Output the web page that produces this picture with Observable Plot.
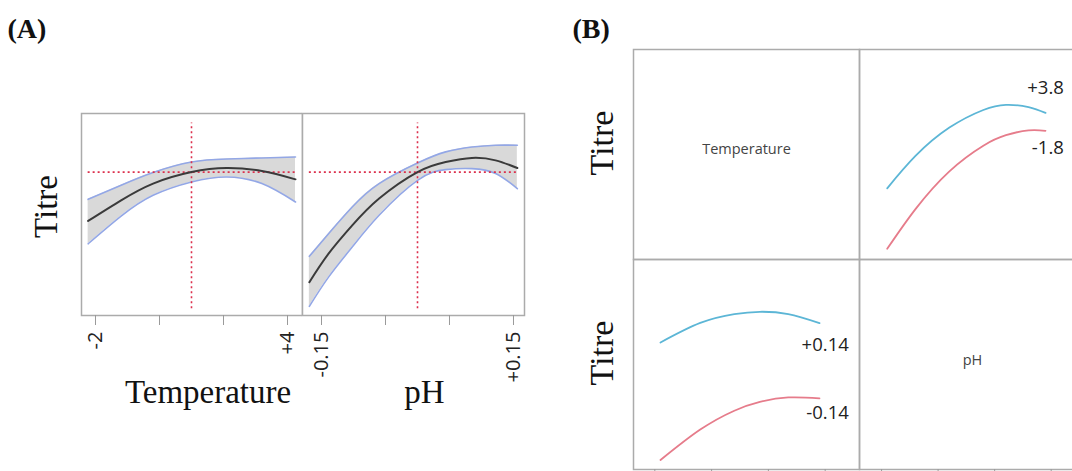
<!DOCTYPE html>
<html>
<head>
<meta charset="utf-8">
<script src="https://cdn.jsdelivr.net/npm/d3@7"></script>
<script src="https://cdn.jsdelivr.net/npm/@observablehq/plot@0.6"></script>
<style>
  html, body { margin: 0; padding: 0; background: #fff; overflow: hidden; }
  #root { position: relative; width: 1072px; height: 471px; overflow: hidden; background: #fff; }
  #root svg { position: absolute; }
</style>
</head>
<body>
<div id="root"></div>
<script>
// ---------- Panel A: prediction profiler ----------
const tempX     = [-2.23, -1.2, -0.2, 1.0, 2.1, 3.2, 4.25];
const tempFit   = [46.8, 57.0, 65.3, 71.0, 73.0, 71.5, 67.4];
const tempUpper = [57.5, 64.5, 70.8, 76.0, 77.5, 78.0, 78.5];
const tempLower = [35.5, 49.2, 59.5, 66.1, 68.6, 65.3, 56.2];

const phX     = [-0.169, -0.139, -0.102, -0.06, 0.0, 0.044, 0.085, 0.122, 0.156];
const phFit   = [16.5, 30.6, 44.6, 57.9, 71.0, 76.0, 78.0, 76.8, 73.0];
const phUpper = [29.3, 40.5, 53.7, 65.3, 75.5, 81.0, 83.4, 84.3, 84.3];
const phLower = [4.5, 19.0, 33.9, 49.6, 66.9, 72.2, 72.7, 70.3, 62.8];

const tempCurrent = 1.0;
const phCurrent = 0.0;
const titreCurrent = 71.0;
const refSpan = [3.3, 95.3];

const tempTicks = [-2, 0, 2, 4];
const tempTickLabels = ["-2", "", "", "+4"];
const phTicks = [-0.15, -0.05, 0.05, 0.15];
const phTickLabels = ["-0.15", "", "", "+0.15"];

// ---------- Panel B: interaction profiles ----------
const bPhX = [-0.14, -0.09, -0.03, 0.03, 0.07, 0.11, 0.14];
const bTempHigh = [33.9, 49.3, 62.8, 71.2, 73.6, 72.6, 69.8];   // Temperature +3.8
const bTempLow  = [5.1, 24.0, 42.0, 54.2, 59.2, 61.5, 61.3];    // Temperature -1.8
const tempLevelLabels = ["+3.8", "-1.8"];

const bTempX = [-1.8, -0.4, 0.8, 1.7, 2.7, 3.8];
const bPhHigh = [60.5, 69.8, 74.0, 75.1, 74.0, 69.7];           // pH +0.14
const bPhLow  = [4.5, 19.0, 28.0, 32.2, 34.3, 33.9];            // pH -0.14
const phLevelLabels = ["+0.14", "-0.14"];

// ---------- styles ----------
const SERIF = "'Liberation Serif', 'Times New Roman', serif";
const SANS = "'Open Sans', 'Liberation Sans', sans-serif";
const RED = "#dc2f4c";
const BAND = "#93a7e6";
const BANDFILL = "#d9d9d9";
const FRAME = "#ababab";
const BLUE_B = "#5cb6d6";
const RED_B = "#e67c8b";

const root = document.getElementById("root");
const pos = (l, t) => ({position: "absolute", left: l + "px", top: t + "px", background: "transparent"});

const tempRows = tempX.map((x, i) => ({x, fit: tempFit[i], hi: tempUpper[i], lo: tempLower[i]}));
const phRows = phX.map((x, i) => ({x, fit: phFit[i], hi: phUpper[i], lo: phLower[i]}));

function profileMarks(rows, current, ticks, tickLabels, label, labelDx) {
  const x0 = rows[0].x, x1 = rows[rows.length - 1].x;
  return [
    Plot.areaY(rows, {x: "x", y1: "lo", y2: "hi", fill: BANDFILL, curve: "natural"}),
    Plot.line(rows, {x: "x", y: "hi", stroke: BAND, strokeWidth: 1.6, curve: "natural"}),
    Plot.line(rows, {x: "x", y: "lo", stroke: BAND, strokeWidth: 1.6, curve: "natural"}),
    Plot.ruleX([current], {y1: refSpan[0], y2: refSpan[1], stroke: RED, strokeWidth: 1.6, strokeDasharray: "2,3"}),
    Plot.ruleY([titreCurrent], {x1: x0, x2: x1, stroke: RED, strokeWidth: 1.6, strokeDasharray: "2,3"}),
    Plot.line(rows, {x: "x", y: "fit", stroke: "#3a3a3a", strokeWidth: 2, curve: "natural"}),
    Plot.frame({stroke: FRAME, strokeWidth: 1.5}),
    Plot.axisX({ticks, tickFormat: d => tickLabels[ticks.indexOf(d)], tickRotate: -90, tickSize: 10,
      tickPadding: 6, fontSize: 20, fontFamily: SANS, stroke: "#9a9a9a", fill: "#222", label: null}),
    Plot.text([label], {text: d => d, frameAnchor: "bottom", textAnchor: "middle", lineAnchor: "bottom",
      dx: labelDx, dy: 87, fontSize: 33, fontFamily: SERIF, fill: "#111"})
  ];
}

// A1: Temperature
root.appendChild(Plot.plot({
  width: 302, height: 471, marginLeft: 81, marginRight: 0, marginTop: 113, marginBottom: 156,
  style: pos(0, 0),
  x: {domain: [-2.4375, 4.46875]},
  y: {domain: [0, 100], axis: null},
  marks: [
    ...profileMarks(tempRows, tempCurrent, tempTicks, tempTickLabels, "Temperature", 16),
    Plot.text(["Titre"], {text: d => d, frameAnchor: "left", rotate: -90, textAnchor: "middle",
      dx: -35, dy: -8, fontSize: 33, fontFamily: SERIF, fill: "#111"}),
    Plot.text(["(A)"], {text: d => d, frameAnchor: "top-left", textAnchor: "start", lineAnchor: "bottom",
      dx: -74, dy: -76, fontSize: 28, fontWeight: "bold", fontFamily: SERIF, fill: "#111"})
  ]
}));

// A2: pH
root.appendChild(Plot.plot({
  width: 242, height: 471, marginLeft: 2, marginRight: 18, marginTop: 113, marginBottom: 156,
  style: pos(300, 0),
  x: {domain: [-0.1797, 0.1672]},
  y: {domain: [0, 100], axis: null},
  marks: profileMarks(phRows, phCurrent, phTicks, phTickLabels, "pH", 11)
}));

// ---------- Panel B ----------
const trBlue = bPhX.map((x, i) => ({x, y: bTempHigh[i]}));
const trRed = bPhX.map((x, i) => ({x, y: bTempLow[i]}));
const blBlue = bTempX.map((x, i) => ({x, y: bPhHigh[i]}));
const blRed = bTempX.map((x, i) => ({x, y: bPhLow[i]}));
const lastOf = a => a[a.length - 1];

// B top-left: Temperature label cell
root.appendChild(Plot.plot({
  width: 301, height: 261, marginLeft: 73, marginRight: 2, marginTop: 49, marginBottom: 2,
  style: pos(560, 0),
  x: {domain: [0, 1], axis: null}, y: {domain: [0, 1], axis: null},
  marks: [
    Plot.frame({stroke: FRAME, strokeWidth: 1.5}),
    Plot.text(["Temperature"], {text: d => d, frameAnchor: "middle", dy: -5.5, fontSize: 14.5, fontFamily: SANS, fill: "#444"}),
    Plot.text(["Titre"], {text: d => d, frameAnchor: "left", rotate: -90, textAnchor: "middle",
      dx: -31.5, dy: -11.5, fontSize: 34, fontFamily: SERIF, fill: "#111"}),
    Plot.text(["(B)"], {text: d => d, frameAnchor: "top-left", textAnchor: "start", lineAnchor: "bottom",
      dx: -61, dy: -12, fontSize: 28, fontWeight: "bold", fontFamily: SERIF, fill: "#111"})
  ]
}));

// B top-right: Titre vs pH at two Temperature levels
root.appendChild(Plot.plot({
  width: 230, height: 261, marginLeft: 2, marginRight: 2, marginTop: 49, marginBottom: 2,
  style: pos(857, 0),
  x: {domain: [-0.189, 0.2107], axis: null}, y: {domain: [0, 100], axis: null},
  marks: [
    Plot.frame({stroke: FRAME, strokeWidth: 1.5}),
    Plot.line(trBlue, {x: "x", y: "y", stroke: BLUE_B, strokeWidth: 1.8, curve: "natural"}),
    Plot.line(trRed, {x: "x", y: "y", stroke: RED_B, strokeWidth: 1.8, curve: "natural"}),
    Plot.text([lastOf(trBlue)], {x: "x", y: "y", text: () => tempLevelLabels[0], textAnchor: "end", lineAnchor: "bottom",
      dx: 18.3, dy: -18.7, fontSize: 18.5, fontFamily: SANS, fill: "#222"}),
    Plot.text([lastOf(trRed)], {x: "x", y: "y", text: () => tempLevelLabels[1], textAnchor: "end", lineAnchor: "bottom",
      dx: 18.3, dy: 23, fontSize: 18.5, fontFamily: SANS, fill: "#222"})
  ]
}));

// B bottom-left: Titre vs Temperature at two pH levels
root.appendChild(Plot.plot({
  width: 301, height: 214, marginLeft: 73, marginRight: 2, marginTop: 2, marginBottom: 2,
  style: pos(560, 257),
  x: {domain: [-2.751, 5.209]}, y: {domain: [0, 100], axis: null},
  marks: [
    Plot.frame({stroke: FRAME, strokeWidth: 1.5}),
    Plot.axisX({ticks: tempTicks, tickFormat: () => "", tickSize: 4, stroke: "#9a9a9a", label: null}),
    Plot.line(blBlue, {x: "x", y: "y", stroke: BLUE_B, strokeWidth: 1.8, curve: "natural"}),
    Plot.line(blRed, {x: "x", y: "y", stroke: RED_B, strokeWidth: 1.8, curve: "natural"}),
    Plot.text([lastOf(blBlue)], {x: "x", y: "y", text: () => phLevelLabels[0], textAnchor: "end", lineAnchor: "bottom",
      dx: 29.3, dy: 27.7, fontSize: 18.5, fontFamily: SANS, fill: "#222"}),
    Plot.text([lastOf(blRed)], {x: "x", y: "y", text: () => phLevelLabels[1], textAnchor: "end", lineAnchor: "bottom",
      dx: 29.3, dy: 21, fontSize: 18.5, fontFamily: SANS, fill: "#222"}),
    Plot.text(["Titre"], {text: d => d, frameAnchor: "left", rotate: -90, textAnchor: "middle",
      dx: -31.5, dy: -11.5, fontSize: 34, fontFamily: SERIF, fill: "#111"})
  ]
}));

// B bottom-right: pH label cell
root.appendChild(Plot.plot({
  width: 230, height: 214, marginLeft: 2, marginRight: 2, marginTop: 2, marginBottom: 2,
  style: pos(857, 257),
  x: {domain: [-0.189, 0.2107]}, y: {domain: [0, 1], axis: null},
  marks: [
    Plot.frame({stroke: FRAME, strokeWidth: 1.5}),
    Plot.axisX({ticks: phTicks, tickFormat: () => "", tickSize: 4, stroke: "#9a9a9a", label: null}),
    Plot.text(["pH"], {text: d => d, frameAnchor: "middle", dy: -4, fontSize: 14.5, fontFamily: SANS, fill: "#444"})
  ]
}));
</script>
</body>
</html>
